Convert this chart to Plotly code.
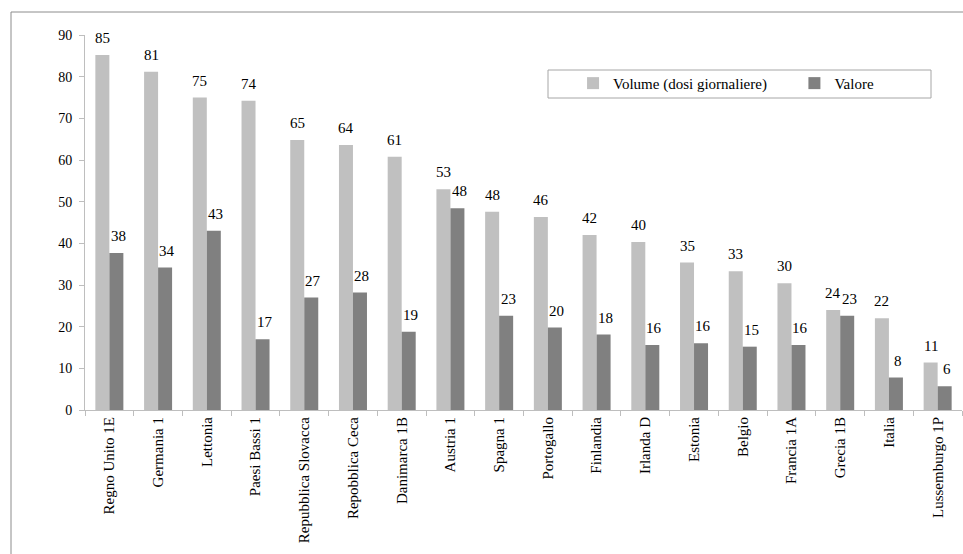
import plotly.graph_objects as go

categories = ["Regno Unito 1E", "Germania 1", "Lettonia", "Paesi Bassi 1",
              "Repubblica Slovacca", "Repobblica Ceca", "Danimarca 1B", "Austria 1",
              "Spagna 1", "Portogallo", "Finlandia", "Irlanda D", "Estonia", "Belgio",
              "Francia 1A", "Grecia 1B", "Italia", "Lussemburgo 1P"]
volume = [85.2, 81.2, 75.0, 74.2, 64.8, 63.6, 60.8, 53.0, 47.6, 46.3, 42.0, 40.3,
          35.4, 33.3, 30.4, 24.0, 22.0, 11.4]
valore = [37.7, 34.2, 43.0, 17.0, 27.0, 28.2, 18.8, 48.4, 22.6, 19.8, 18.1, 15.6,
          16.0, 15.2, 15.6, 22.6, 7.8, 5.7]
y_ticks = [0, 10, 20, 30, 40, 50, 60, 70, 80, 90]

FONT = "Liberation Serif, Times New Roman, serif"
AX = "#BEBEBE"

fig = go.Figure()
fig.add_trace(go.Bar(name="Volume (dosi giornaliere)" + "\u00a0" * 6, x=categories, y=volume,
                     marker=dict(color="#C0C0C0", line=dict(width=0))))
fig.add_trace(go.Bar(name="Valore", x=categories, y=valore,
                     marker=dict(color="#808080", line=dict(width=0))))

annotations = []
for c, v in zip(categories, volume):
    annotations.append(dict(x=c, y=v, text=f"{round(v)}", showarrow=False,
                            xshift=-7, yshift=17, yanchor="middle",
                            font=dict(family=FONT, size=15, color="#000")))
for c, v in zip(categories, valore):
    annotations.append(dict(x=c, y=v, text=f"{round(v)}", showarrow=False,
                            xshift=9, yshift=17, yanchor="middle",
                            font=dict(family=FONT, size=15, color="#000")))

fig.update_layout(
    width=963, height=554,
    margin=dict(l=85, r=1, t=35, b=144),
    paper_bgcolor="white", plot_bgcolor="white",
    barmode="group", bargap=0.425, bargroupgap=0,
    font=dict(family=FONT, size=15, color="#000"),
    annotations=annotations,
    showlegend=True,
    legend=dict(orientation="h", x=0.5565, y=0.915, xanchor="left", yanchor="top",
                bgcolor="rgba(0,0,0,0)", borderwidth=0,
                font=dict(family=FONT, size=15, color="#000"),
                traceorder="normal"),
    shapes=[
        dict(type="rect", xref="paper", yref="paper",
             x0=(548 - 85) / 877, x1=(931 - 85) / 877,
             y0=(410 - 98) / 375, y1=(410 - 70) / 375,
             line=dict(color="#A6A6A6", width=1), fillcolor="rgba(0,0,0,0)"),
        dict(type="rect", xref="paper", yref="paper",
             x0=(11 - 85) / 877, x1=1.2,
             y0=-0.6, y1=(410 - 12) / 375,
             line=dict(color="#8C8C8C", width=1), fillcolor="rgba(0,0,0,0)"),
    ],
)
fig.update_xaxes(type="category", showline=True, linecolor=AX, linewidth=1,
                 ticks="outside", tickson="boundaries", ticklen=5, tickcolor=AX,
                 tickangle=-90, showgrid=False, zeroline=False,
                 tickfont=dict(family=FONT, size=15, color="#000"))
fig.update_yaxes(range=[0, 90], tickvals=y_ticks, showline=True, linecolor=AX,
                 linewidth=1, ticks="outside", ticklen=5, tickcolor=AX,
                 showgrid=False, zeroline=False, ticklabelstandoff=4,
                 tickfont=dict(family=FONT, size=14, color="#000"))

fig.write_html("out.html")
